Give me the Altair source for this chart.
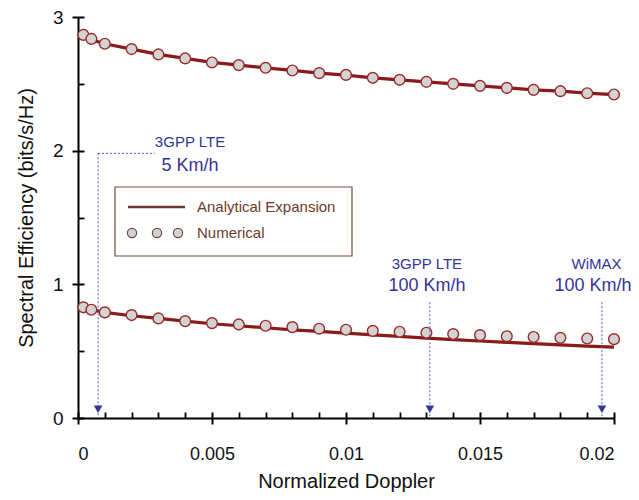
import altair as alt
import pandas as pd

# ---------------- data ----------------
doppler = [0.0002, 0.0005, 0.001, 0.002, 0.003, 0.004, 0.005, 0.006, 0.007, 0.008, 0.009,
           0.010, 0.011, 0.012, 0.013, 0.014, 0.015, 0.016, 0.017, 0.018, 0.019, 0.020]
upper_numerical = [2.866, 2.836, 2.80, 2.76, 2.72, 2.69, 2.66, 2.64, 2.62, 2.60, 2.58,
                   2.567, 2.545, 2.53, 2.515, 2.50, 2.485, 2.47, 2.455, 2.445, 2.43, 2.42]
upper_analytical = [2.86, 2.83, 2.80, 2.76, 2.72, 2.69, 2.66, 2.64, 2.62, 2.60, 2.58,
                    2.565, 2.545, 2.53, 2.515, 2.50, 2.485, 2.47, 2.455, 2.445, 2.43, 2.42]
lower_numerical = [0.828, 0.81, 0.79, 0.77, 0.745, 0.725, 0.71, 0.70, 0.69, 0.68, 0.668,
                   0.66, 0.652, 0.645, 0.638, 0.628, 0.62, 0.612, 0.606, 0.60, 0.595, 0.59]
lower_analytical = [0.83, 0.81, 0.79, 0.765, 0.745, 0.725, 0.705, 0.69, 0.675, 0.66, 0.648,
                    0.635, 0.622, 0.61, 0.598, 0.587, 0.576, 0.566, 0.556, 0.547, 0.538, 0.53]

x_major = [0, 0.005, 0.01, 0.015, 0.02]
x_minor = [0.001, 0.002, 0.003, 0.004, 0.006, 0.007, 0.008, 0.009, 0.011, 0.012, 0.013,
           0.014, 0.016, 0.017, 0.018, 0.019]
y_major = [0, 1, 2, 3]
y_minor = [0.5, 1.5, 2.5]

arrow_x = [0.00075, 0.01313, 0.01955]
arrow_top = [1.98, 0.866, 0.866]
arrow_head_y = [0.065, 0.065, 0.065]
connector_x = [0.00075]
connector_x2 = [0.00287]
connector_y = [1.98]
label_x = [0.00418, 0.01302, 0.01935]
label_small = ["3GPP LTE", "3GPP LTE", "WiMAX"]
label_small_y = [2.067, 1.149, 1.149]
label_big_x = [0.00418, 0.01302, 0.01922]
label_big = ["5 Km/h", "100 Km/h", "100 Km/h"]
label_big_y = [1.888, 0.985, 0.985]

# ---------------- styles ----------------
FONT = "Liberation Sans"
LINE_COLOR = "#8b1a1a"
PT_STROKE = "#9a2a2a"
PT_FILL = "#d3d3d3"
ANN_COLOR = "#333399"
DOT_COLOR = "#5555cc"
LEG_COLOR = "#6b3a2e"

rows = []
for i, d in enumerate(doppler):
    rows.append({"x": d, "ana": upper_analytical[i], "num": upper_numerical[i], "series": "upper"})
    rows.append({"x": d, "ana": lower_analytical[i], "num": lower_numerical[i], "series": "lower"})
df = pd.DataFrame(rows)

xscale = alt.Scale(domain=[0, 0.02], nice=False, zero=False)
yscale = alt.Scale(domain=[0, 3], nice=False, zero=False)

main_x_axis = alt.Axis(values=x_major, format="~g", orient="bottom", tickSize=6, tickWidth=2,
                       tickColor="black", domainColor="black", domainWidth=2, grid=False,
                       labelFont=FONT, labelFontSize=18, labelColor="#111", labelPadding=21,
                       title="Normalized Doppler", titleFont=FONT, titleFontSize=20,
                       titleFontWeight="normal", titleColor="#111", titlePadding=8)
main_y_axis = alt.Axis(values=y_major, format="d", orient="left", tickSize=6, tickWidth=2,
                       tickColor="black", domainColor="black", domainWidth=2, grid=False,
                       labelFont=FONT, labelFontSize=19, labelColor="#111", labelPadding=9,
                       title="Spectral Efficiency (bits/s/Hz)", titleFont=FONT, titleFontSize=20,
                       titleFontWeight="normal", titleColor="#111", titlePadding=16)


def inner_axis(orient, values, width):
    return alt.Axis(values=values, orient=orient, offset=-6, tickSize=6, tickWidth=width,
                    tickColor="black", domain=False, labels=False, grid=False, title=None)


lines = alt.Chart(df).mark_line(color=LINE_COLOR, strokeWidth=3.2).encode(
    x=alt.X("x:Q", scale=xscale, axis=main_x_axis),
    y=alt.Y("ana:Q", scale=yscale, axis=main_y_axis),
    detail="series:N",
)

points = alt.Chart(df).mark_point(filled=True, fill=PT_FILL, stroke=PT_STROKE, strokeWidth=1.4,
                                  size=115, opacity=1, shape="circle").encode(
    x=alt.X("x:Q", scale=xscale, axis=inner_axis("bottom", x_major, 2)),
    y=alt.Y("num:Q", scale=yscale, axis=inner_axis("left", y_major, 2)),
)

ghost = alt.Chart(df).mark_point(opacity=0).encode(
    x=alt.X("x:Q", scale=xscale, axis=inner_axis("bottom", x_minor, 1.8)),
    y=alt.Y("num:Q", scale=yscale, axis=inner_axis("left", y_minor, 1.8)),
)

# annotations
arr_df = pd.DataFrame({"x": arrow_x, "top": arrow_top, "bottom": [0, 0, 0], "head": arrow_head_y})
vrules = alt.Chart(arr_df).mark_rule(color=DOT_COLOR, strokeWidth=1, strokeDash=[2, 2]).encode(
    x=alt.X("x:Q", scale=xscale, axis=None),
    y=alt.Y("top:Q", scale=yscale, axis=None),
    y2="bottom:Q",
)
heads = alt.Chart(arr_df).mark_point(shape="triangle-down", filled=True, color=ANN_COLOR,
                                     size=75, opacity=1).encode(
    x=alt.X("x:Q", scale=xscale, axis=None),
    y=alt.Y("head:Q", scale=yscale, axis=None),
)
con_df = pd.DataFrame({"x": connector_x, "x2": connector_x2, "y": connector_y})
hrule = alt.Chart(con_df).mark_rule(color=DOT_COLOR, strokeWidth=1, strokeDash=[2, 2]).encode(
    x=alt.X("x:Q", scale=xscale, axis=None),
    x2="x2:Q",
    y=alt.Y("y:Q", scale=yscale, axis=None),
)
small_df = pd.DataFrame({"x": label_x, "t": label_small, "y": label_small_y})
big_df = pd.DataFrame({"x": label_big_x, "t": label_big, "y": label_big_y})
small_txt = alt.Chart(small_df).mark_text(font=FONT, fontSize=15, color=ANN_COLOR,
                                          align="center", baseline="middle").encode(
    x=alt.X("x:Q", scale=xscale, axis=None),
    y=alt.Y("y:Q", scale=yscale, axis=None),
    text="t:N",
)
big_txt = alt.Chart(big_df).mark_text(font=FONT, fontSize=18, color=ANN_COLOR,
                                      align="center", baseline="middle").encode(
    x=alt.X("x:Q", scale=xscale, axis=None),
    y=alt.Y("y:Q", scale=yscale, axis=None),
    text="t:N",
)

# legend (drawn box)
legend_items = ["Analytical Expansion", "Numerical"]
leg_box = alt.Chart(pd.DataFrame({"k": [0]})).mark_rect(
    fill="white", stroke="#7a4a3a", strokeWidth=1.2).encode(
    x=alt.value(37), x2=alt.value(274), y=alt.value(170), y2=alt.value(239))
leg_line = alt.Chart(pd.DataFrame({"k": [0]})).mark_rule(color=LEG_COLOR, strokeWidth=2.5).encode(
    x=alt.value(50), x2=alt.value(107), y=alt.value(190))
leg_pts = alt.Chart(pd.DataFrame({"px": [54, 79, 100]})).mark_point(
    filled=True, fill=PT_FILL, stroke="#6b4a40", strokeWidth=1.2, size=85, opacity=1).encode(
    x=alt.X("px:Q", scale=None, axis=None), y=alt.value(216))
leg_txt = alt.Chart(pd.DataFrame({"t": legend_items, "py": [190, 216]})).mark_text(
    font=FONT, fontSize=15, color=LEG_COLOR, align="left", baseline="middle").encode(
    x=alt.value(119), y=alt.Y("py:Q", scale=None, axis=None), text="t:N")

chart = alt.layer(
    lines, points, ghost, vrules, hrule, heads, small_txt, big_txt,
    leg_box, leg_line, leg_pts, leg_txt,
).resolve_axis(x="independent", y="independent").properties(
    width=536, height=401,
    padding={"left": 70, "top": 9, "right": 17, "bottom": 74},
    autosize=alt.AutoSizeParams(type="none"),
).configure_view(stroke=None)

chart.save("out.html", embed_options={"renderer": "svg", "actions": False})
